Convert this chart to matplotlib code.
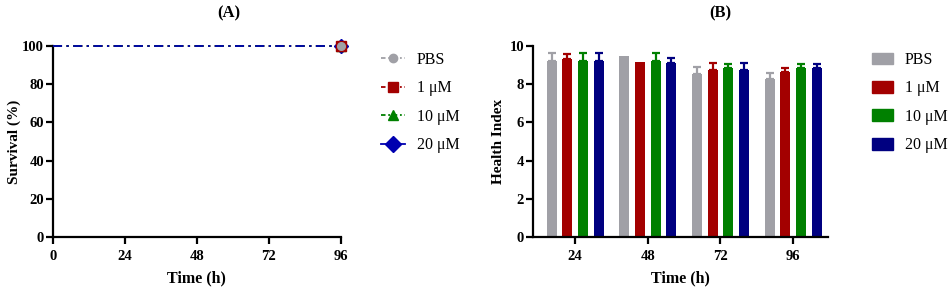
import matplotlib
matplotlib.use("Agg")
import matplotlib.pyplot as plt
import numpy as np
from matplotlib.lines import Line2D
from matplotlib.patches import Patch

plt.rcParams['font.family'] = ['Liberation Serif', 'DejaVu Serif']

groups = ["PBS", "1 μM", "10 μM", "20 μM"]
colors = ["#A0A0A6", "#A30000", "#008000", "#0000B0"]
bar_colors = ["#A0A0A6", "#A30000", "#008000", "#000080"]

# Panel A: survival
times_a = [0, 24, 48, 72, 96]
survival = {
    "PBS": [100, 100, 100, 100, 100],
    "1 μM": [100, 100, 100, 100, 100],
    "10 μM": [100, 100, 100, 100, 100],
    "20 μM": [100, 100, 100, 100, 100],
}
markers = ["o", "s", "^", "D"]

# Panel B: health index
times_b = ["24", "48", "72", "96"]
health_mean = {
    "PBS":   [9.23, 9.49, 8.54, 8.29],
    "1 μM":  [9.34, 9.18, 8.75, 8.64],
    "10 μM": [9.23, 9.23, 8.83, 8.83],
    "20 μM": [9.23, 9.13, 8.75, 8.83],
}
health_err = {
    "PBS":   [0.38, 0.0, 0.38, 0.30],
    "1 μM":  [0.24, 0.0, 0.38, 0.23],
    "10 μM": [0.38, 0.38, 0.25, 0.25],
    "20 μM": [0.38, 0.24, 0.38, 0.25],
}

W, H = 948, 290
fig = plt.figure(figsize=(W/100, H/100), dpi=100)
axA = fig.add_axes([53/W, 1-237/H, 287.7/W, 191/H])
axB = fig.add_axes([533/W, 1-237/H, 295/W, 191/H])

def style(ax):
    for s in ['top', 'right']:
        ax.spines[s].set_visible(False)
    for s in ['left', 'bottom']:
        ax.spines[s].set_linewidth(1.6)
    ax.tick_params(direction='out', length=5, width=1.6, labelsize=10.5)
    ax.tick_params(axis='x', pad=4.5)
    ax.tick_params(axis='y', pad=1.5)
    for lab in ax.get_xticklabels() + ax.get_yticklabels():
        lab.set_fontweight('bold')

# Panel A: lines (20 µM drawn on top), markers only at the final point
msizes = {"o": 5.5, "s": 7.5, "^": 7, "D": 7.5}
mzord = {"o": 9, "s": 8, "^": 7, "D": 6}
for i, (g, c, m) in enumerate(zip(groups, colors, markers)):
    axA.plot(times_a, survival[g], color=c, linestyle=(0, (5, 2.5, 1.2, 2.5)), lw=1.3,
             clip_on=False, zorder=2 + i)
    axA.plot(times_a, survival[g], linestyle='none', marker=m, markevery=[-1],
             markersize=msizes[m], markerfacecolor=c, markeredgecolor=c,
             clip_on=False, zorder=mzord[m])
axA.set_xlim(0, 96)
axA.set_ylim(0, 100)
axA.set_xticks([0, 24, 48, 72, 96])
axA.set_yticks([0, 20, 40, 60, 80, 100])
style(axA)
axA.set_xlabel("Time (h)", fontsize=11.5, fontweight='bold', labelpad=5)
axA.set_ylabel("Survival (%)", fontsize=11, fontweight='bold', labelpad=1)
fig.text(229/W, 1-13/H, "(A)", fontsize=12, fontweight='bold', ha='center', va='center')

legsize = {"o": 6, "s": 7, "^": 7, "D": 8}
handlesA = []
for i, (c, m) in enumerate(zip(colors, markers)):
    ls = (0, (2.5, 1.5, 1, 1.5)) if i < 3 else '-'
    handlesA.append(Line2D([0], [0], color=c, linestyle=ls, lw=1.3, marker=m,
                           markersize=legsize[m], markerfacecolor=c, markeredgecolor=c))
fig.legend(handlesA, groups, loc='upper left', bbox_to_anchor=(381/W, 1-52/H), frameon=False,
           fontsize=11.5, handlelength=1.5, handletextpad=0.75, labelspacing=0.78,
           borderpad=0, borderaxespad=0)

# Panel B
x = np.arange(len(times_b))
bw = 0.137
sp = 0.215
for i, (g, c) in enumerate(zip(groups, bar_colors)):
    pos = x + (i - 1.5) * sp
    axB.bar(pos, health_mean[g], width=bw, color=c, zorder=2)
    errs = np.array(health_err[g])
    mask = errs > 0
    axB.errorbar(pos[mask], np.array(health_mean[g])[mask],
                 yerr=[np.zeros(mask.sum()), errs[mask]], fmt='none',
                 ecolor=c, elinewidth=1.6, capsize=3, capthick=1.6, zorder=1)
axB.set_xlim(-0.58, 3.48)
axB.set_ylim(0, 10)
axB.set_xticks(x)
axB.set_xticklabels(times_b)
axB.set_yticks([0, 2, 4, 6, 8, 10])
style(axB)
axB.set_xlabel("Time (h)", fontsize=11.5, fontweight='bold', labelpad=5)
axB.set_ylabel("Health Index", fontsize=11, fontweight='bold', labelpad=3)
fig.text(720/W, 1-13/H, "(B)", fontsize=12, fontweight='bold', ha='center', va='center')

handlesB = [Patch(facecolor=c, edgecolor=c) for c in bar_colors]
fig.legend(handlesB, groups, loc='upper left', bbox_to_anchor=(872/W, 1-52/H), frameon=False,
           fontsize=11.5, handlelength=1.3, handleheight=0.75, handletextpad=0.75,
           labelspacing=0.78, borderpad=0, borderaxespad=0)

fig.savefig("out.png", dpi=100)
